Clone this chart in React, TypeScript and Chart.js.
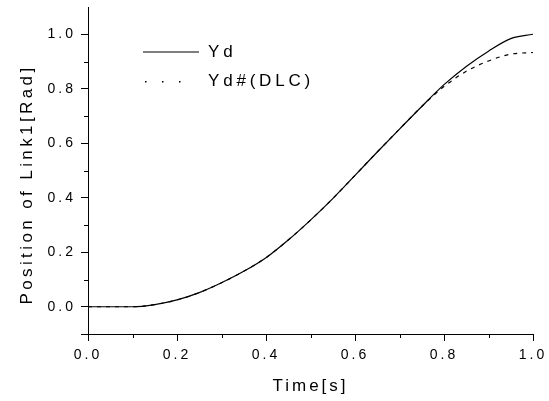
import { useEffect, useRef } from "react";
import { Chart, registerables } from "chart.js";

Chart.register(...registerables);

// ---- data ----
const time = [0, 0.05, 0.1, 0.15, 0.2, 0.25, 0.3, 0.35, 0.4, 0.45, 0.5, 0.55, 0.6, 0.65, 0.7, 0.75, 0.8, 0.85, 0.9, 0.95, 1.0];
const yd = [0, 0, 0, 0.008, 0.025, 0.052, 0.088, 0.13, 0.18, 0.245, 0.318, 0.397, 0.482, 0.568, 0.652, 0.735, 0.815, 0.882, 0.938, 0.984, 1.0];
const ydDlc = [0, 0, 0, 0.008, 0.025, 0.052, 0.088, 0.13, 0.18, 0.245, 0.318, 0.397, 0.482, 0.568, 0.652, 0.735, 0.808, 0.864, 0.902, 0.927, 0.933];
const seriesNames = ["Yd", "Yd#(DLC)"];
const xTickValues = [0, 0.2, 0.4, 0.6, 0.8, 1.0];
const yTickValues = [0, 0.2, 0.4, 0.6, 0.8, 1.0];
const xMinorTicks = [0.1, 0.3, 0.5, 0.7, 0.9];
const yMinorTicks = [0.1, 0.3, 0.5, 0.7, 0.9];
const xTitle = "Time[s]";
const yTitle = "Position of Link1[Rad]";

const FONT = "'Liberation Sans', Arial, sans-serif";
const SPACING = "3px";

const spacingPlugin = {
  id: "spacing",
  beforeUpdate(chart: any) {
    chart.ctx.letterSpacing = SPACING;
  },
  beforeLayout(chart: any) {
    chart.ctx.letterSpacing = SPACING;
  },
  beforeDraw(chart: any) {
    chart.ctx.letterSpacing = SPACING;
  },
};

const extrasPlugin = {
  id: "extras",
  afterDraw(chart: any) {
    const ctx = chart.ctx as CanvasRenderingContext2D;
    const xs = chart.scales.x;
    const ys = chart.scales.y;
    ctx.save();
    ctx.strokeStyle = "#000";
    ctx.lineWidth = 1;
    ctx.beginPath();
    xMinorTicks.forEach((v) => {
      const px = Math.round(xs.getPixelForValue(v)) + 0.5;
      ctx.moveTo(px, ys.bottom);
      ctx.lineTo(px, ys.bottom + 4);
    });
    yMinorTicks.forEach((v) => {
      const py = Math.round(ys.getPixelForValue(v)) + 0.5;
      ctx.moveTo(xs.left, py);
      ctx.lineTo(xs.left - 4, py);
    });
    const pyMin = Math.round(ys.getPixelForValue(ys.min)) + 0.5;
    ctx.moveTo(xs.left, pyMin);
    ctx.lineTo(xs.left - 7, pyMin);
    ctx.stroke();

    // y-axis title (drawn manually to match its offset)
    ctx.fillStyle = "#000";
    ctx.letterSpacing = "3.4px";
    ctx.font = `17px ${FONT}`;
    ctx.textBaseline = "middle";
    ctx.textAlign = "center";
    ctx.save();
    ctx.translate(27, (chart.chartArea.top + chart.chartArea.bottom) / 2 + 14);
    ctx.rotate(-Math.PI / 2);
    ctx.fillText(yTitle, 0, 0);
    ctx.restore();

    // legend
    const lx = chart.chartArea.left + 55;
    const ly1 = chart.chartArea.top + 45;
    const ly2 = ly1 + 29;
    ctx.lineWidth = 1.2;
    ctx.beginPath();
    ctx.moveTo(lx, ly1);
    ctx.lineTo(lx + 56, ly1);
    ctx.stroke();
    [0, 17, 34].forEach((dx) => {
      ctx.fillRect(lx + 2 + dx, ly2, 1.5, 1.5);
    });
    ctx.letterSpacing = "3.8px";
    ctx.textAlign = "left";
    ctx.fillText(seriesNames[0], lx + 65, ly1);
    ctx.fillText(seriesNames[1], lx + 65, ly2);
    ctx.restore();
  },
};

export default function App() {
  const canvasRef = useRef<HTMLCanvasElement | null>(null);

  useEffect(() => {
    if (!canvasRef.current) return;
    const chart = new Chart(canvasRef.current, {
      type: "line",
      data: {
        datasets: [
          {
            label: seriesNames[0],
            data: time.map((t, i) => ({ x: t, y: yd[i] })),
            borderColor: "#000",
            borderWidth: 1.2,
            pointRadius: 0,
            cubicInterpolationMode: "monotone",
            fill: false,
          },
          {
            label: seriesNames[1],
            data: time.map((t, i) => ({ x: t, y: ydDlc[i] })),
            borderColor: "#000",
            borderWidth: 1.2,
            borderDash: [4, 5],
            pointRadius: 0,
            cubicInterpolationMode: "monotone",
            fill: false,
          },
        ],
      },
      options: {
        animation: false,
        responsive: true,
        maintainAspectRatio: false,
        layout: { padding: { left: 0, top: 7, right: 16, bottom: 0 } },
        plugins: {
          legend: { display: false },
          tooltip: { enabled: false },
        },
        scales: {
          x: {
            type: "linear",
            min: 0,
            max: 1,
            afterBuildTicks: (scale: any) => {
              scale.ticks = xTickValues.map((v) => ({ value: v }));
            },
            afterFit: (scale: any) => {
              scale.height = 67;
              scale.paddingLeft = 0;
              scale.paddingRight = 0;
            },
            ticks: {
              color: "#000",
              font: { family: FONT, size: 14 },
              padding: 6,
              maxRotation: 0,
              callback: (v: any) => Number(v).toFixed(1),
            },
            grid: {
              drawOnChartArea: false,
              color: "#000",
              tickLength: 7,
              tickColor: "#000",
            },
            border: { display: true, color: "#000", width: 1 },
            title: {
              display: true,
              text: xTitle,
              color: "#000",
              font: { family: FONT, size: 17 },
              padding: { top: 0, bottom: 4 },
            },
          },
          y: {
            type: "linear",
            min: -0.1,
            max: 1.1,
            afterBuildTicks: (scale: any) => {
              scale.ticks = yTickValues.map((v) => ({ value: v }));
            },
            afterFit: (scale: any) => {
              scale.width = 88;
              scale.paddingTop = 0;
              scale.paddingBottom = 0;
            },
            ticks: {
              color: "#000",
              font: { family: FONT, size: 14 },
              padding: 5,
              callback: (v: any) => Number(v).toFixed(1),
            },
            grid: {
              drawOnChartArea: false,
              color: "#000",
              tickLength: 7,
              tickColor: "#000",
            },
            border: { display: true, color: "#000", width: 1 },
            title: { display: false, text: yTitle },
          },
        },
      },
      plugins: [spacingPlugin, extrasPlugin],
    } as any);
    return () => chart.destroy();
  }, []);

  return (
    <div style={{ position: "fixed", left: 0, top: 0, width: 549, height: 401, background: "#fff" }}>
      <canvas ref={canvasRef} />
    </div>
  );
}
